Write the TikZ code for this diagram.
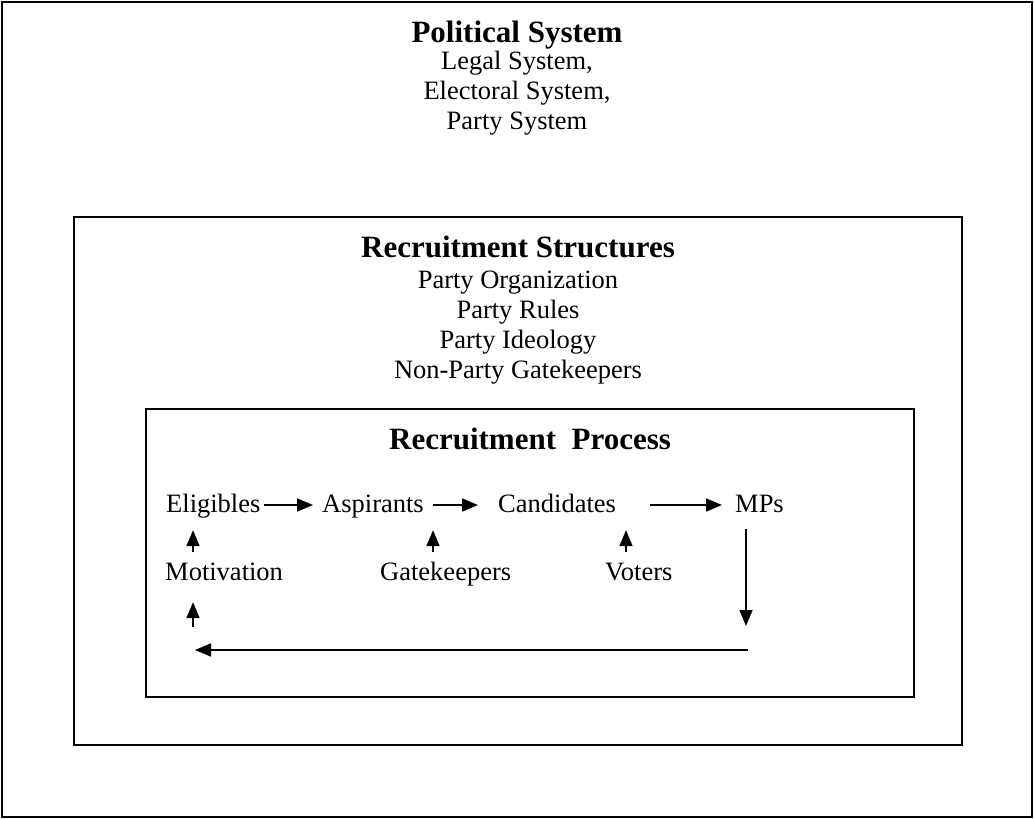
\documentclass[tikz,border=0pt]{standalone}
\usepackage{fontspec}
\setmainfont{Liberation Serif}
\usetikzlibrary{arrows.meta}

\begin{document}
\begin{tikzpicture}[x=1pt,y=-1pt,
		frame/.style={draw,line width=1.8pt},
		head/.style={font=\fontsize{31}{35}\selectfont\bfseries,inner sep=0pt,anchor=base},
		items/.style={font=\fontsize{26.5}{30}\selectfont,align=center,inner sep=0pt,anchor=north},
		word/.style={font=\fontsize{26.5}{30}\selectfont,inner sep=0pt,anchor=base west,text height=19pt,text depth=5pt},
		flow/.style={line width=1.7pt,-{Triangle[length=16pt,width=13pt]}}]
		\useasboundingbox (0,0) rectangle (1034,819);
		% boxes
		\draw[frame] (2,2) rectangle (1032,817);
		\draw[frame] (74,217) rectangle (962,745);
		\draw[frame] (146,409) rectangle (914,697);
		% headings and lists
		\node[head] (pol) at (517,42) {Political System};
		\node[items] (pollist) at (517,51) {Legal System,\\Electoral System,\\Party System};
		\node[head] (struct) at (518,257) {Recruitment Structures};
		\node[items] (structlist) at (518,271) {Party Organization\\Party Rules\\Party Ideology\\Non-Party Gatekeepers};
		\node[head] (proc) at (530,449) {Recruitment\ \ Process};
		% the stages
		\node[word] (elig) at (166,512) {Eligibles};
		\node[word] (asp) at (322,512) {Aspirants};
		\node[word] (cand) at (498,512) {Candidates};
		\node[word] (mps) at (735,512) {MPs};
		\node[word] (mot) at (165,580) {Motivation};
		\node[word] (gate) at (380,580) {Gatekeepers};
		\node[word] (vot) at (605,580) {Voters};
		\coordinate (turn) at (748,650);
		\coordinate (back) at (195,650);
		\draw[flow] ([xshift=3pt]elig.east) -- ([xshift=-9pt]asp.west);
		\draw[flow] ([xshift=9pt]asp.east) -- ([xshift=-20pt]cand.west);
		\draw[flow] ([xshift=34pt]cand.east) -- ([xshift=-13pt]mps.west);
		\draw[flow] ([xshift=28pt,yshift=9pt]mot.north west) -- ([xshift=27pt,yshift=-13pt]elig.south west);
		\draw[flow] ([xshift=53pt,yshift=9pt]gate.north west) -- ([xshift=111pt,yshift=-13pt]asp.south west);
		\draw[flow] ([xshift=21pt,yshift=9pt]vot.north west) -- ([xshift=128pt,yshift=-13pt]cand.south west);
		\draw[flow] ([xshift=11pt,yshift=-12pt]mps.south west) -- ([xshift=11pt,yshift=24pt]turn -| mps.south west);
		\draw[flow] (turn) -- (back);
		\draw[flow] ([xshift=28pt,yshift=23pt]back -| mot.south west) -- ([xshift=28pt,yshift=-17pt]mot.south west);
	\end{tikzpicture}
\end{document}
